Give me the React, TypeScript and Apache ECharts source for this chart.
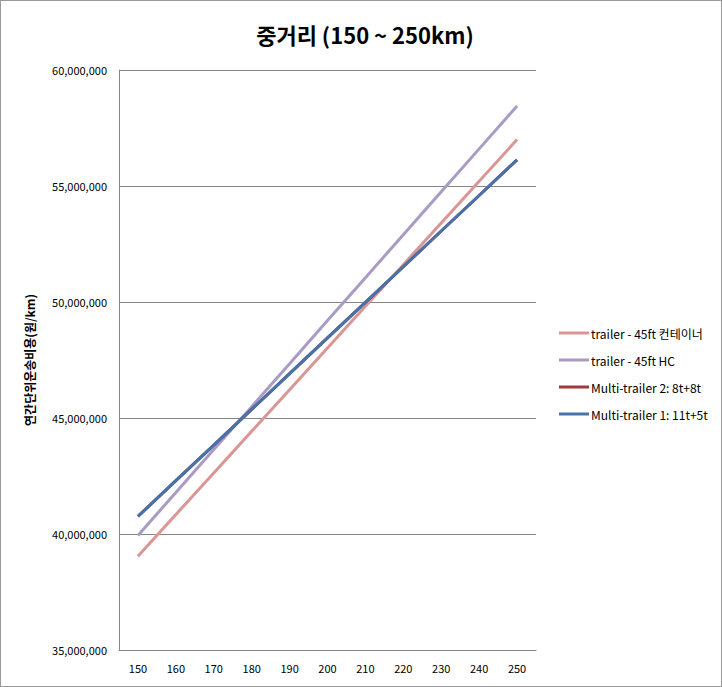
import React, { useEffect, useRef } from "react";
import * as echarts from "echarts";

const categories = ["150", "160", "170", "180", "190", "200", "210", "220", "230", "240", "250"];
const trailer45ft = [39040000, 40840000, 42630000, 44430000, 46220000, 48020000, 49820000, 51610000, 53410000, 55200000, 57000000];
const trailer45ftHC = [39940000, 41790000, 43640000, 45490000, 47340000, 49200000, 51050000, 52900000, 54750000, 56600000, 58450000];
const multi2 = [40760000, 42300000, 43830000, 45370000, 46910000, 48450000, 49980000, 51520000, 53060000, 54590000, 56130000];
const multi1 = [40760000, 42300000, 43830000, 45370000, 46910000, 48450000, 49980000, 51520000, 53060000, 54590000, 56130000];
const seriesNames = ["trailer - 45ft 컨테이너", "trailer - 45ft HC", "Multi-trailer 2: 8t+8t", "Multi-trailer 1: 11t+5t"];
const colors = ["#D99694", "#A99BC4", "#A0393B", "#4673AB"];

export default function App() {
  const ref = useRef<HTMLDivElement>(null);
  useEffect(() => {
    if (!ref.current) return;
    const chart = echarts.init(ref.current, null, { renderer: "svg" });
    const font = "'Noto Sans CJK KR', 'Liberation Sans', sans-serif";
    const datas = [trailer45ft, trailer45ftHC, multi2, multi1];
    chart.setOption({
      animation: false,
      backgroundColor: "#ffffff",
      title: {
        text: "중거리 (150 ~ 250km)",
        left: 359,
        top: 17,
        textAlign: "center",
        textStyle: { fontFamily: font, fontSize: 22, fontWeight: "bold", color: "#000" },
      },
      grid: { left: 118, right: 185, top: 69, bottom: 36, containLabel: false },
      legend: {
        orient: "vertical",
        left: 553,
        top: 321,
        itemWidth: 30,
        itemHeight: 3,
        itemGap: 15,
        icon: "rect",
        data: seriesNames,
        textStyle: { fontFamily: font, fontSize: 12, color: "#000", padding: [0, 0, 0, -3] },
      },
      xAxis: {
        type: "category",
        data: categories,
        boundaryGap: true,
        axisLine: { show: true, lineStyle: { color: "#868686", width: 1 } },
        axisTick: { show: false },
        axisLabel: { fontFamily: font, fontSize: 11, color: "#000", margin: 12 },
      },
      yAxis: {
        type: "value",
        min: 35000000,
        max: 60000000,
        interval: 5000000,
        name: "연간단위운송비용(원/km)",
        nameLocation: "middle",
        nameGap: 84,
        nameTextStyle: { fontFamily: font, fontSize: 12, fontWeight: "bold", color: "#000" },
        axisLine: { show: true, lineStyle: { color: "#868686", width: 1 } },
        axisTick: { show: false },
        splitLine: { lineStyle: { color: "#868686", width: 1 } },
        axisLabel: {
          fontFamily: font,
          fontSize: 11,
          color: "#000",
          margin: 12,
          formatter: (v: number) => v.toLocaleString("en-US"),
        },
      },
      series: datas.map((d, i) => ({
        name: seriesNames[i],
        type: "line",
        data: d,
        symbol: "none",
        showSymbol: false,
        color: colors[i],
        lineStyle: { width: 3, color: colors[i] },
        z: 2 + i,
      })),
    });
    return () => chart.dispose();
  }, []);
  return (
    <div
      ref={ref}
      style={{
        position: "absolute",
        left: 0,
        top: 0,
        width: 722,
        height: 687,
        boxSizing: "border-box",
        border: "1px solid #9a9a9a",
        background: "#fff",
      }}
    />
  );
}
